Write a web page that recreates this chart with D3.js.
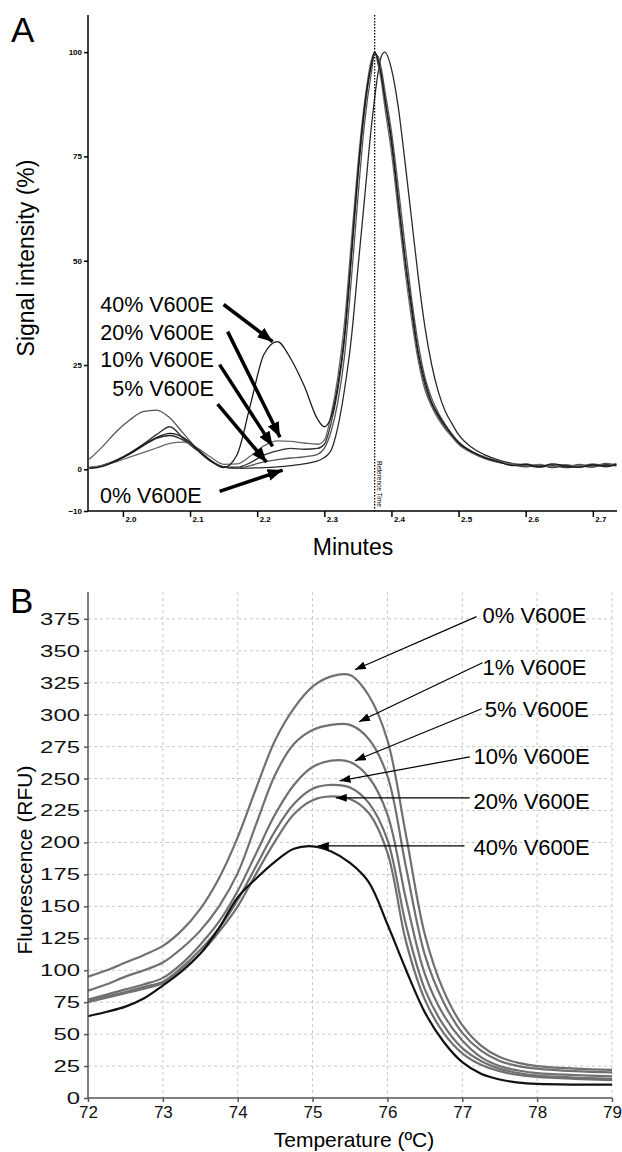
<!doctype html>
<html lang="en">
<head>
  <meta charset="utf-8">
  <title>V600E chromatogram and melt curves</title>
  <script src="https://cdn.jsdelivr.net/npm/d3@7"></script>
  <style>
    body { margin: 0; background: #fff; }
    svg { display: block; font-family: "Liberation Sans", Arial, sans-serif; }
    .axisA path, .axisA line { stroke: #000; stroke-width: 1.5; }
    .axisA text { font-size: 8px; font-weight: bold; fill: #000; }
    .axisB path, .axisB line { stroke: #555; stroke-width: 1.5; }
    .axisB text { font-size: 17px; fill: #111; }
    .grid line { stroke: #c8c8c8; stroke-width: 1; stroke-dasharray: 3,3; }
  </style>
</head>
<body>
<div id="chart"></div>
<script>
// ---- panel A : chromatogram ----
const timeA = [1.95, 1.97, 1.99, 2.01, 2.03, 2.05, 2.07, 2.09, 2.11, 2.13, 2.15, 2.17, 2.19, 2.21, 2.23, 2.25, 2.27, 2.29,
  2.30, 2.31, 2.32, 2.33, 2.34, 2.35, 2.36, 2.37, 2.375, 2.38, 2.385, 2.39, 2.40, 2.41, 2.42, 2.43, 2.44, 2.45, 2.46, 2.47, 2.48, 2.49, 2.50,
  2.52, 2.54, 2.56, 2.58, 2.60, 2.62, 2.64, 2.66, 2.68, 2.70, 2.72, 2.735];

const sigA0 = [0.4, 0.8, 2.0, 3.6, 5.6, 7.4, 8.1, 7.0, 4.6, 2.0, 0.5, 0.2, 0.3, 0.4, 0.6, 0.9, 1.3, 2.0,
  2.8, 4.5, 10, 19, 31, 48, 65, 82, 89, 95, 99, 100, 96, 87, 74, 60, 46, 34, 25, 18.5, 14, 11, 8.3,
  5.2, 3.4, 2.2, 1.4, 0.9, 0.5, 0.9, 0.4, 0.8, 0.5, 1.2, 0.8];
const sigA5 = [2.4, 5.5, 9.0, 11.8, 13.8, 14.2, 12.3, 8.6, 5.0, 2.2, 0.6, 0.3, 0.9, 1.8, 2.3, 2.7, 3.0, 3.6,
  5.0, 9, 16, 27, 45, 65, 83, 95, 99.5, 99, 96, 91, 81, 68, 54, 41, 30, 22, 17, 13.5, 10.8, 8.5, 6.6,
  4.3, 2.9, 1.9, 1.1, 1.3, 0.7, 1.1, 0.6, 1.2, 0.7, 1.4, 1.0];
const sigA10 = [0.3, 1.0, 2.2, 3.9, 6.0, 8.3, 10.2, 7.4, 4.8, 2.1, 0.6, 0.5, 1.6, 3.4, 4.4, 5.0, 4.8, 5.0,
  6.0, 11, 19, 31, 50, 70, 86, 97, 100, 98, 94, 89, 78, 64, 50, 38, 27, 20, 15.5, 12.5, 10, 8, 6.2,
  4.0, 2.6, 1.7, 1.0, 0.6, 1.0, 0.4, 0.9, 0.5, 1.0, 0.6, 1.1];
const sigA20 = [0.5, 0.9, 1.8, 2.9, 4.0, 5.1, 6.2, 6.5, 5.2, 3.0, 1.2, 1.3, 3.2, 5.6, 6.8, 6.7, 6.3, 6.0,
  7.0, 13, 22, 35, 54, 73, 88, 98, 100, 97, 93, 87, 76, 62, 48, 36, 26, 19, 15, 12, 9.7, 7.8, 6.0,
  3.9, 2.5, 1.6, 1.3, 0.8, 1.2, 0.6, 1.1, 0.7, 1.3, 0.9, 1.4];
const sigA40 = [0.2, 0.7, 2.0, 3.8, 5.8, 7.6, 8.6, 7.6, 5.0, 2.2, 0.4, 3.5, 15.5, 27.5, 30.6, 26.5, 20, 12,
  10.2, 12.5, 20, 32, 51, 71, 87, 97, 100, 98, 94.5, 89, 79, 65, 51, 39, 28, 21, 16, 13, 10.5, 8.3, 6.4,
  4.2, 2.7, 1.8, 0.9, 1.2, 0.6, 1.3, 0.8, 0.5, 1.1, 0.8, 1.2];

const seriesA = [sigA0, sigA5, sigA10, sigA20, sigA40];
const colorsA = ["#2a2a2a", "#555", "#333", "#666", "#1a1a1a"];
const ticksAx = [2.0, 2.1, 2.2, 2.3, 2.4, 2.5, 2.6, 2.7];
const ticksAy = [-10, 0, 25, 50, 75, 100];
const refTime = 2.375;

// labels: text position (x, baseline y) and arrow start -> tip, all in data units
const labelsA = ["40% V600E", "20% V600E", "10% V600E", "5% V600E", "0% V600E"];
const labelAx = [2.1354, 2.1354, 2.1354, 2.1354, 1.9658];
const labelAy = [37.8, 31.1, 24.4, 17.5, -8.1];
const labelAanchor = ["end", "end", "end", "end", "start"];
const arrowA = [
  [2.150, 39.5, 2.223, 30.6],
  [2.156, 33.0, 2.234, 7.7],
  [2.144, 25.1, 2.223, 5.5],
  [2.141, 15.6, 2.214, 1.7],
  [2.144, -5.3, 2.238, -0.2]
];

// ---- panel B : melt curves ----
const tempB = [72, 72.25, 72.5, 72.75, 73, 73.25, 73.5, 73.75, 74, 74.25, 74.5, 74.75, 75, 75.25, 75.5, 75.75,
  76, 76.25, 76.5, 76.75, 77, 77.25, 77.5, 77.75, 78, 78.5, 79];
const rfu0 = [95, 100, 106, 112, 119, 131, 148, 172, 204, 243, 280, 305, 322, 330, 331, 315,
  280, 205, 128, 84, 57, 41, 32, 27.5, 25, 23, 22];
const rfu1 = [84, 89, 95, 100, 106, 117, 131, 150, 176, 215, 253, 277, 288, 292, 292, 281,
  252, 180, 112, 75, 51, 37, 29, 25, 23, 21, 20];
const rfu5 = [77, 81, 85, 89, 94, 105, 120, 138, 162, 192, 222, 245, 259, 264, 263, 251,
  222, 155, 97, 65, 45, 32, 25, 21.5, 19.5, 18, 17];
const rfu10 = [76, 79.5, 83, 87, 91, 102, 116, 133, 155, 182, 209, 230, 242, 245, 243, 231,
  202, 135, 85, 57, 39, 29, 23, 19.5, 17.5, 16, 15];
const rfu20 = [75, 78.5, 82, 85.5, 90, 100, 113, 130, 150, 176, 201, 222, 233, 236, 234, 223,
  192, 122, 77, 51, 35, 26, 21, 18, 16.5, 15, 14];
const rfu40 = [64, 67.5, 71.5, 78, 88, 99, 113, 133, 157, 172, 185, 195, 197, 193, 184, 169,
  136, 100, 67, 44, 28, 19, 14.5, 12, 11, 10.5, 10.5];

const seriesB = [rfu0, rfu1, rfu5, rfu10, rfu20, rfu40];
const colorsB = ["#707070", "#707070", "#707070", "#707070", "#707070", "#111"];
const ticksBx = [72, 73, 74, 75, 76, 77, 78, 79];
const ticksBy = [0, 25, 50, 75, 100, 125, 150, 175, 200, 225, 250, 275, 300, 325, 350, 375];

const labelsB = ["0% V600E", "1% V600E", "5% V600E", "10% V600E", "20% V600E", "40% V600E"];
const labelBx = [77.27, 77.27, 77.30, 77.15, 77.15, 77.15];
const labelBy = [372, 331.2, 298.4, 261.6, 226.3, 190.3];
const arrowB = [
  [77.19, 376.7, 75.565, 335.2],
  [77.27, 340.6, 75.62, 294.4],
  [77.26, 304.6, 75.565, 263.9],
  [77.10, 267.0, 75.36, 248.2],
  [77.10, 234.9, 75.31, 234.9],
  [77.03, 197.3, 75.07, 197.3]
];

const W = 622, H = 1152;
const svg = d3.select("#chart").append("svg").attr("width", W).attr("height", H);

const defs = svg.append("defs");
defs.append("marker").attr("id", "headA")
  .attr("markerUnits", "userSpaceOnUse").attr("viewBox", "0 0 15 12")
  .attr("markerWidth", 15).attr("markerHeight", 12)
  .attr("refX", 15).attr("refY", 6).attr("orient", "auto")
  .append("path").attr("d", "M0,0 L15,6 L0,12 Z").attr("fill", "#000");
defs.append("marker").attr("id", "headB")
  .attr("markerUnits", "userSpaceOnUse").attr("viewBox", "0 0 11 8")
  .attr("markerWidth", 11).attr("markerHeight", 8)
  .attr("refX", 11).attr("refY", 4).attr("orient", "auto")
  .append("path").attr("d", "M0,0 L11,4 L0,8 Z").attr("fill", "#000");

// ================= panel A =================
const xA = d3.scaleLinear().domain([1.948, 2.736]).range([88, 617]);
const yA = d3.scaleLinear().domain([-10, 108.9]).range([511, 15]);
const gA = svg.append("g");

gA.append("text").attr("x", 11).attr("y", 42).attr("font-size", 35).text("A");

const lineA = d3.line().x(d => xA(d[0])).y(d => yA(d[1])).curve(d3.curveMonotoneX);
gA.append("g").selectAll("path").data(seriesA).join("path")
  .attr("d", s => lineA(s.map((v, i) => [timeA[i], v])))
  .attr("fill", "none")
  .attr("stroke", (s, i) => colorsA[i])
  .attr("stroke-width", 1.3);

// reference time
gA.append("line")
  .attr("x1", xA(refTime)).attr("x2", xA(refTime))
  .attr("y1", yA(108.9)).attr("y2", yA(-10))
  .attr("stroke", "#000").attr("stroke-width", 1.3).attr("stroke-dasharray", "1.5,1.5");
gA.append("text")
  .attr("transform", `translate(${xA(refTime) + 2},${yA(2)}) rotate(90)`)
  .attr("font-size", 6.5).attr("fill", "#000").text("Reference Time");

const axAy = gA.append("g").attr("class", "axisA").attr("transform", "translate(88,0)")
  .call(d3.axisLeft(yA).tickValues(ticksAy).tickSize(4).tickPadding(2).tickFormat(d3.format("d")));
axAy.select(".domain").attr("d", `M0,${yA(108.9)}V${yA(-10)}`);

const axAx = gA.append("g").attr("class", "axisA").attr("transform", "translate(0,511)")
  .call(d3.axisBottom(xA).tickValues(ticksAx).tickSize(6).tickFormat(d3.format(".1f")));
axAx.select(".domain").attr("d", `M88,0H617`);
axAx.selectAll(".tick text").attr("text-anchor", "start").attr("x", 2).attr("y", 5);

gA.append("text").attr("transform", "translate(34,258) rotate(-90)")
  .attr("text-anchor", "middle").attr("font-size", 23).text("Signal intensity (%)");
gA.append("text").attr("x", 353).attr("y", 555)
  .attr("text-anchor", "middle").attr("font-size", 23).text("Minutes");

gA.append("g").selectAll("line").data(arrowA).join("line")
  .attr("x1", d => xA(d[0])).attr("y1", d => yA(d[1]))
  .attr("x2", d => xA(d[2])).attr("y2", d => yA(d[3]))
  .attr("stroke", "#000").attr("stroke-width", 3.5).attr("marker-end", "url(#headA)");
gA.append("g").selectAll("text").data(labelsA).join("text")
  .attr("x", (d, i) => xA(labelAx[i])).attr("y", (d, i) => yA(labelAy[i]))
  .attr("text-anchor", (d, i) => labelAanchor[i])
  .attr("font-size", 21.5).text(d => d);

// ================= panel B =================
const xB = d3.scaleLinear().domain([72, 79]).range([88, 612]);
const yB = d3.scaleLinear().domain([0, 396]).range([1098, 592]);
const gB = svg.append("g");

gB.append("text").attr("x", 10).attr("y", 613).attr("font-size", 35).text("B");

const grid = gB.append("g").attr("class", "grid");
grid.selectAll("line.h").data(ticksBy.filter(d => d > 0)).join("line").attr("class", "h")
  .attr("x1", xB(72)).attr("x2", xB(79)).attr("y1", d => yB(d)).attr("y2", d => yB(d));
grid.selectAll("line.v").data(ticksBx.filter(d => d > 72)).join("line").attr("class", "v")
  .attr("x1", d => xB(d)).attr("x2", d => xB(d)).attr("y1", yB(396)).attr("y2", yB(0));

const lineB = d3.line().x(d => xB(d[0])).y(d => yB(d[1])).curve(d3.curveCatmullRom.alpha(0.5));
gB.append("g").selectAll("path").data(seriesB).join("path")
  .attr("d", s => lineB(s.map((v, i) => [tempB[i], v])))
  .attr("fill", "none")
  .attr("stroke", (s, i) => colorsB[i])
  .attr("stroke-width", 2.2);

const axBy = gB.append("g").attr("class", "axisB").attr("transform", "translate(88,0)")
  .call(d3.axisLeft(yB).tickValues(ticksBy).tickSize(4).tickPadding(4));
axBy.select(".domain").attr("d", `M0,${yB(396)}V${yB(0)}`);
axBy.selectAll(".tick text")
  .attr("textLength", d => String(d).length * 13.3)
  .attr("lengthAdjust", "spacingAndGlyphs");

const axBx = gB.append("g").attr("class", "axisB").attr("transform", "translate(0,1098)")
  .call(d3.axisBottom(xB).tickValues(ticksBx).tickSize(4).tickPadding(4).tickFormat(d3.format("d")));
axBx.select(".domain").attr("d", `M88,0H612`);

gB.append("text").attr("transform", "translate(32,860) rotate(-90)")
  .attr("text-anchor", "middle").attr("font-size", 21).text("Fluorescence (RFU)");
gB.append("text").attr("x", 354).attr("y", 1147)
  .attr("text-anchor", "middle").attr("font-size", 21).text("Temperature (ºC)");

gB.append("g").selectAll("line").data(arrowB).join("line")
  .attr("x1", d => xB(d[0])).attr("y1", d => yB(d[1]))
  .attr("x2", d => xB(d[2])).attr("y2", d => yB(d[3]))
  .attr("stroke", "#000").attr("stroke-width", 1.2).attr("marker-end", "url(#headB)");
gB.append("g").selectAll("text").data(labelsB).join("text")
  .attr("x", (d, i) => xB(labelBx[i])).attr("y", (d, i) => yB(labelBy[i]))
  .attr("font-size", 22).text(d => d);
</script>
</body>
</html>
